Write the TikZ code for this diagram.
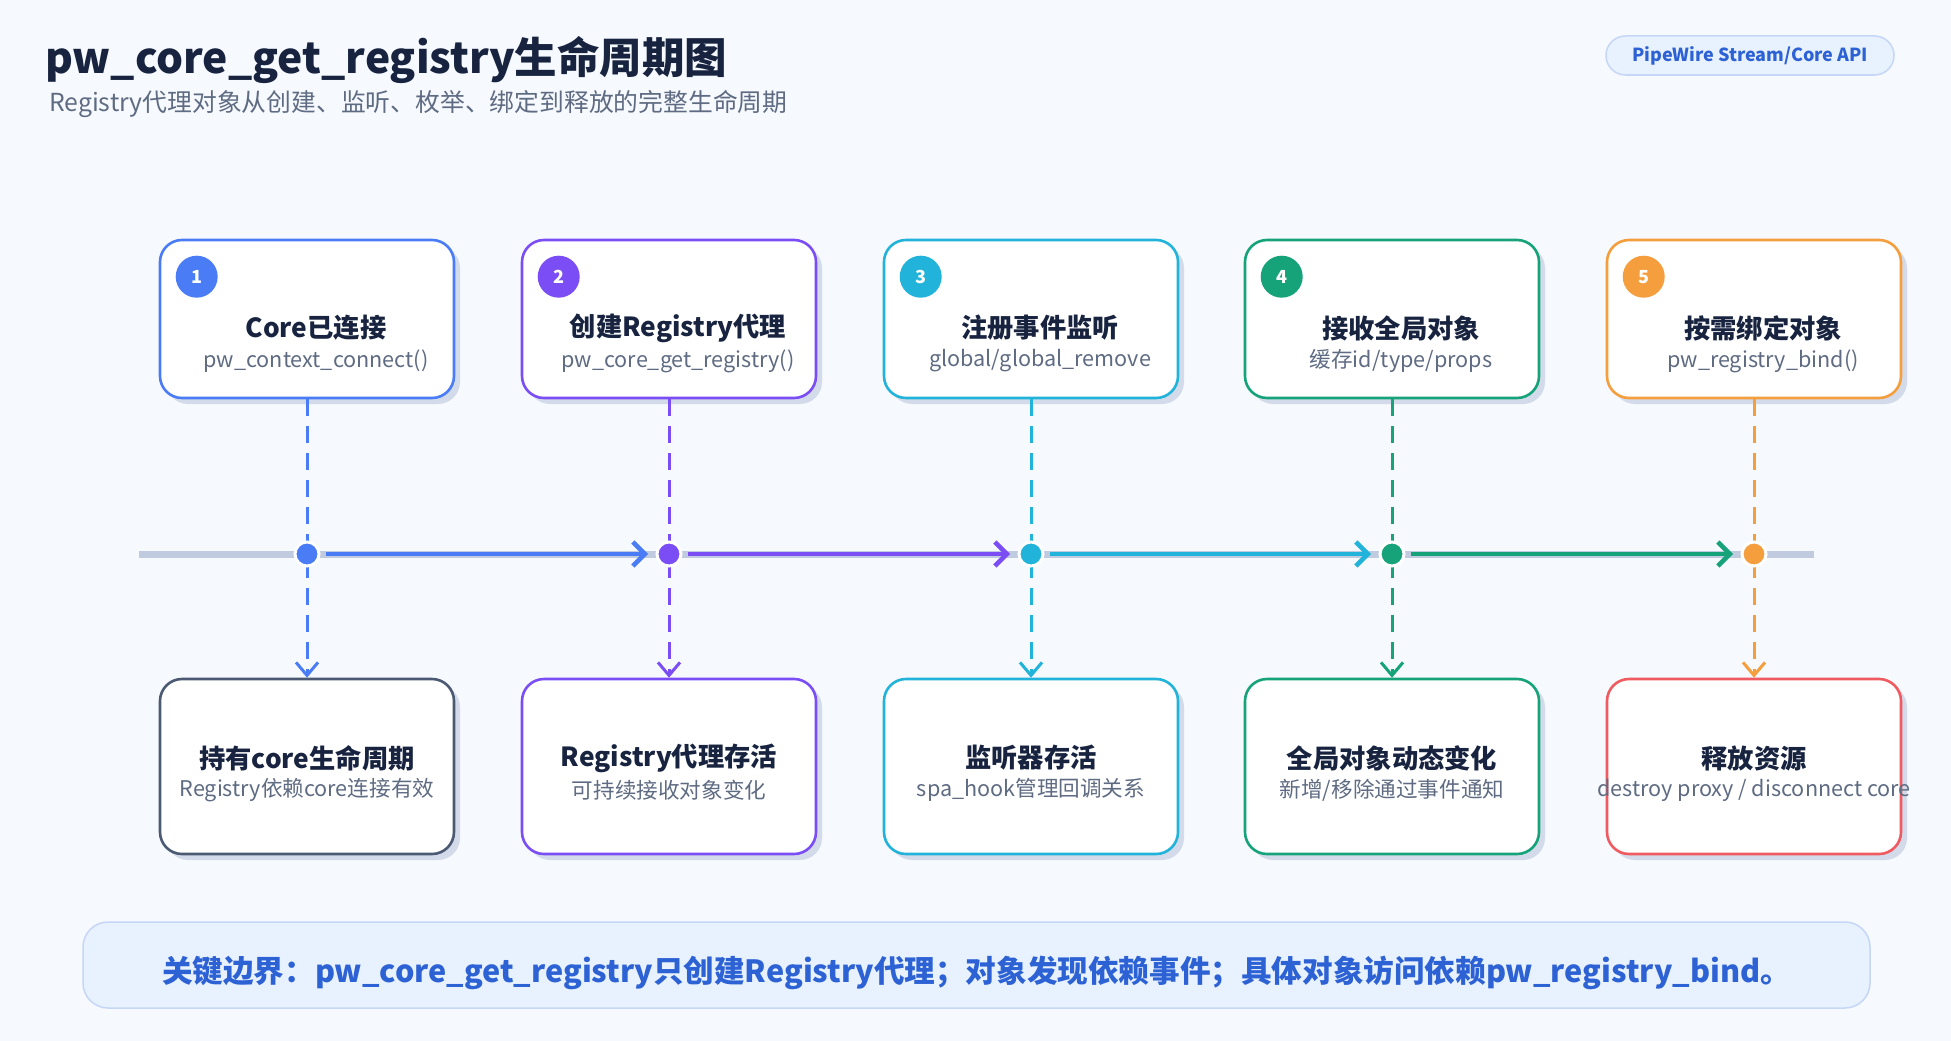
\documentclass[tikz,border=0pt]{standalone}
\usepackage{fontspec}
\setmainfont{Noto Sans CJK SC}
\usetikzlibrary{arrows.meta,shadows}
\definecolor{pagebg}{HTML}{F6F9FD}
\definecolor{ink}{HTML}{17233F}
\definecolor{muted}{HTML}{5E6B82}
\definecolor{shadowc}{HTML}{D3DBEA}
\definecolor{railc}{HTML}{C1CBE0}
\definecolor{cblue}{HTML}{4A7CF6}
\definecolor{cpurple}{HTML}{7B4EF5}
\definecolor{ccyan}{HTML}{22B3DA}
\definecolor{cgreen}{HTML}{17A37A}
\definecolor{corange}{HTML}{F59E3D}
\definecolor{cred}{HTML}{EF5B61}
\definecolor{cslate}{HTML}{4B5A72}
\definecolor{notefill}{HTML}{E8F1FE}
\definecolor{noteline}{HTML}{C5D6F6}
\definecolor{notetext}{HTML}{2D62D5}
\begin{document}
\begin{tikzpicture}[x=1pt,y=-1pt,
  box/.style={draw=#1,line width=2.6pt,fill=white,rounded corners=22pt,minimum width=294pt,inner sep=0pt,
    general shadow={fill=shadowc,shadow xshift=6pt,shadow yshift=-6pt}},
  topbox/.style={box=#1,minimum height=158pt},
  botbox/.style={box=#1,minimum height=175pt},
  num/.style={circle,fill=#1,minimum size=42pt,inner sep=0pt,text=white,font=\fontsize{18}{20}\selectfont\bfseries},
  headtxt/.style={inner sep=0pt,text=ink,font=\fontsize{26.3}{30}\selectfont\bfseries},
  subtxt/.style={inner sep=0pt,text=muted,font=\fontsize{21.6}{24}\selectfont},
  tldot/.style={circle,fill=#1,draw=white,line width=3pt,minimum size=24pt,inner sep=0pt},
  drop/.style={draw=#1,line width=3pt,dash pattern=on 17pt off 10pt,-{Straight Barb[length=13pt,width=22pt]}},
  flow/.style={draw=#1,line width=4.5pt,shorten <=5.5pt,shorten >=7.5pt,-{Straight Barb[length=12pt,width=24pt]}}]
\fill[pagebg] (0,0) rectangle (1951,1041);
\useasboundingbox (0,0) rectangle (1951,1041);
\node[anchor=west,inner sep=0pt,text=ink,font=\fontsize{42.5}{50}\selectfont\bfseries] (title) at (45,60) {pw\_core\_get\_registry生命周期图};
\node[anchor=west,inner sep=0pt,text=muted,font=\fontsize{24.8}{28}\selectfont] (subtitle) at (49,104) {Registry代理对象从创建、监听、枚举、绑定到释放的完整生命周期};
\node[draw=noteline,fill=notefill,line width=1.5pt,rounded corners=19.5pt,minimum width=288pt,minimum height=39pt,text=notetext,font=\fontsize{18}{20}\selectfont\bfseries] (api) at (1750,55.5) {PipeWire Stream/Core API};
\node[topbox=cblue] (top1) at (307,319) {};
\node[num=cblue] (n1) at ([xshift=38pt,yshift=-38pt]top1.north west) {1};
\node[headtxt] (h1) at ([xshift=9pt,yshift=-9pt]top1.center) {Core已连接};
\node[subtxt] (s1) at ([xshift=9pt,yshift=-42pt]top1.center) {pw\_context\_connect()};
\node[topbox=cpurple] (top2) at (669,319) {};
\node[num=cpurple] (n2) at ([xshift=38pt,yshift=-38pt]top2.north west) {2};
\node[headtxt] (h2) at ([xshift=9pt,yshift=-9pt]top2.center) {创建Registry代理};
\node[subtxt] (s2) at ([xshift=9pt,yshift=-42pt]top2.center) {pw\_core\_get\_registry()};
\node[topbox=ccyan] (top3) at (1031,319) {};
\node[num=ccyan] (n3) at ([xshift=38pt,yshift=-38pt]top3.north west) {3};
\node[headtxt] (h3) at ([xshift=9pt,yshift=-9pt]top3.center) {注册事件监听};
\node[subtxt] (s3) at ([xshift=9pt,yshift=-42pt]top3.center) {global/global\_remove};
\node[topbox=cgreen] (top4) at (1392,319) {};
\node[num=cgreen] (n4) at ([xshift=38pt,yshift=-38pt]top4.north west) {4};
\node[headtxt] (h4) at ([xshift=9pt,yshift=-9pt]top4.center) {接收全局对象};
\node[subtxt] (s4) at ([xshift=9pt,yshift=-42pt]top4.center) {缓存id/type/props};
\node[topbox=corange] (top5) at (1754,319) {};
\node[num=corange] (n5) at ([xshift=38pt,yshift=-38pt]top5.north west) {5};
\node[headtxt] (h5) at ([xshift=9pt,yshift=-9pt]top5.center) {按需绑定对象};
\node[subtxt] (s5) at ([xshift=9pt,yshift=-42pt]top5.center) {pw\_registry\_bind()};
\node[botbox=cslate] (bot1) at (307,766.5) {};
\node[headtxt] (bh1) at ([yshift=8.5pt]bot1.center) {持有core生命周期};
\node[subtxt] (bs1) at ([yshift=-23.5pt]bot1.center) {Registry依赖core连接有效};
\node[botbox=cpurple] (bot2) at (669,766.5) {};
\node[headtxt] (bh2) at ([yshift=8.5pt]bot2.center) {Registry代理存活};
\node[subtxt] (bs2) at ([yshift=-23.5pt]bot2.center) {可持续接收对象变化};
\node[botbox=ccyan] (bot3) at (1031,766.5) {};
\node[headtxt] (bh3) at ([yshift=8.5pt]bot3.center) {监听器存活};
\node[subtxt] (bs3) at ([yshift=-23.5pt]bot3.center) {spa\_hook管理回调关系};
\node[botbox=cgreen] (bot4) at (1392,766.5) {};
\node[headtxt] (bh4) at ([yshift=8.5pt]bot4.center) {全局对象动态变化};
\node[subtxt] (bs4) at ([yshift=-23.5pt]bot4.center) {新增/移除通过事件通知};
\node[botbox=cred] (bot5) at (1754,766.5) {};
\node[headtxt] (bh5) at ([yshift=8.5pt]bot5.center) {释放资源};
\node[subtxt] (bs5) at ([yshift=-23.5pt]bot5.center) {destroy proxy / disconnect core};
\draw[drop=cblue] (top1) -- (bot1);
\draw[drop=cpurple] (top2) -- (bot2);
\draw[drop=ccyan] (top3) -- (bot3);
\draw[drop=cgreen] (top4) -- (bot4);
\draw[drop=corange] (top5) -- (bot5);
\coordinate (railL) at (139,554);
\coordinate (railR) at (1814,554);
\draw[railc,line width=7pt] (railL) -- (railR);
\node[tldot=cblue] (d1) at (307,554) {};
\node[tldot=cpurple] (d2) at (669,554) {};
\node[tldot=ccyan] (d3) at (1031,554) {};
\node[tldot=cgreen] (d4) at (1392,554) {};
\node[tldot=corange] (d5) at (1754,554) {};
\draw[flow=cblue] (d1) -- (d2);
\draw[flow=cpurple] (d2) -- (d3);
\draw[flow=ccyan] (d3) -- (d4);
\draw[flow=cgreen] (d4) -- (d5);
\node[draw=noteline,fill=notefill,line width=1.5pt,rounded corners=25pt,minimum width=1787pt,minimum height=86pt] (note) at (976.5,965) {};
\node[inner sep=0pt,text=notetext,font=\fontsize{30.6}{34}\selectfont\bfseries] (notetxt) at ([yshift=-8pt]note.center) {关键边界：pw\_core\_get\_registry只创建Registry代理；对象发现依赖事件；具体对象访问依赖pw\_registry\_bind。};
\end{tikzpicture}
\end{document}
